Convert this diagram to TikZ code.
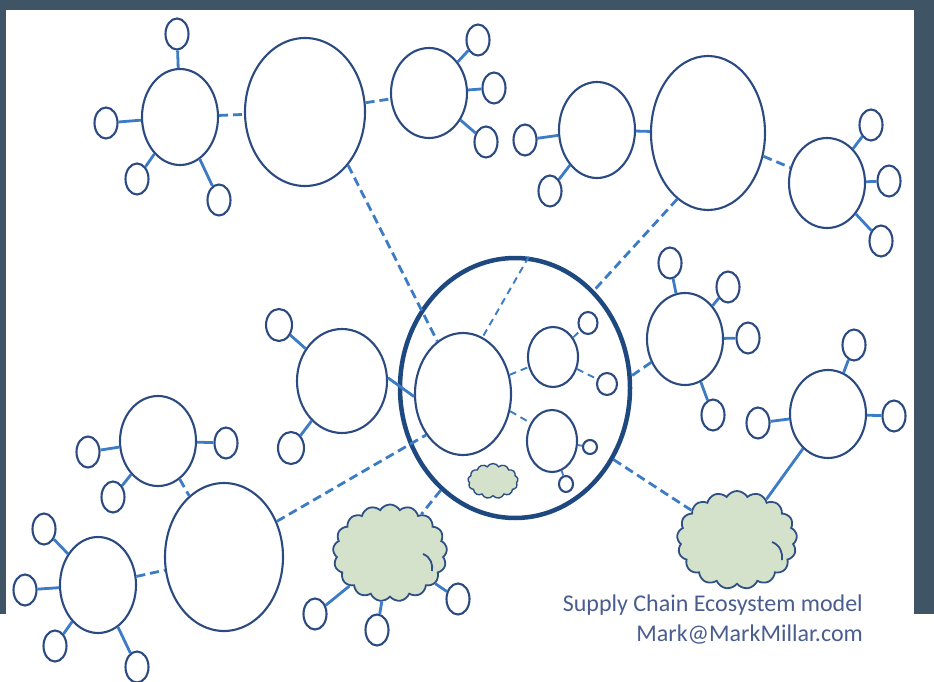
\documentclass[tikz,border=0pt]{standalone}
\usepackage{fontspec}
\setmainfont{Carlito}
\usetikzlibrary{shapes.geometric,shapes.symbols}
\definecolor{framec}{HTML}{3F5464}
\definecolor{outl}{HTML}{2C4A82}
\definecolor{ringc}{HTML}{1E4880}
\definecolor{conn}{HTML}{3C7BC5}
\definecolor{cloudf}{HTML}{D5E2CB}
\definecolor{cloudd}{HTML}{2F5084}
\definecolor{txt}{HTML}{4A5D8F}
\begin{document}
\begin{tikzpicture}[x=1pt,y=-1pt,
  el/.style 2 args={ellipse,draw=outl,line width=2.1pt,inner sep=0pt,minimum width=#1pt,minimum height=#2pt},
  sat/.style={el={23}{31}},
  link/.style={draw=conn,line width=2.8pt},
  dlink/.style={link,dash pattern=on 9pt off 5pt},
  idlink/.style={draw=conn,line width=1.9pt,dash pattern=on 7pt off 5pt},
  cl/.style 2 args={cloud,cloud puffs=17,cloud puff arc=120,cloud ignores aspect,draw=cloudd,fill=cloudf,line width=1.8pt,inner sep=0pt,minimum width=#1pt,minimum height=#2pt},
  curl/.style={draw=cloudd,line width=1.8pt},
  lbl/.style={anchor=base east,text=txt,font=\fontsize{24}{28}\selectfont,inner sep=0pt}]
% background frame
\fill[framec] (0,0) rectangle (934,614);
\fill[white] (6,10) rectangle (914,614);
\fill[white] (0,614) rectangle (934,682);
\useasboundingbox (0,0) rectangle (934,682);
% main nodes
\node[el={76}{96}] (A) at (180,117) {};
\node[el={120}{148}] (B) at (305,112) {};
\node[el={76}{90}] (C) at (429,93) {};
\node[el={76}{96}] (D) at (597,130) {};
\node[el={114}{154}] (E) at (708,133) {};
\node[el={76}{90}] (F) at (827,183) {};
\node[ellipse,draw=ringc,line width=4.5pt,inner sep=0pt,minimum width=230pt,minimum height=260pt] (R) at (515,388) {};
\node[el={96}{122}] (G) at (463,394) {};
\node[el={50}{60}] (H) at (553,357) {};
\node[el={50}{62}] (I) at (552,441) {};
\node[el={90}{104}] (J) at (342,381) {};
\node[el={118}{148}] (K) at (224,557) {};
\node[el={76}{90}] (L) at (158,441) {};
\node[el={76}{96}] (M) at (98,585) {};
\node[el={76}{92}] (O) at (685,339) {};
\node[el={76}{88}] (P) at (828,414) {};
% clouds
\node[cl={114}{97}] (N) at (390,553) {};
\node[cl={120}{98}] (Q) at (737,540) {};
\node[cl={50}{35},cloud puffs=13,line width=1.4pt] (S) at (493,481) {};
\draw[curl] ([shift={(33,1)}]N.center) .. controls ([shift={(41,4)}]N.center) and ([shift={(43,12)}]N.center) .. ([shift={(42,18)}]N.center);
\draw[curl] ([shift={(35,2)}]Q.center) .. controls ([shift={(43,5)}]Q.center) and ([shift={(46,13)}]Q.center) .. ([shift={(45,20)}]Q.center);
% satellites
\node[sat] (a1) at (177,34) {};
\node[sat] (a2) at (106,123) {};
\node[sat] (a3) at (137,179) {};
\node[sat] (a4) at (219,200) {};
\node[sat] (c1) at (478,40) {};
\node[sat] (c2) at (494,88) {};
\node[sat] (c3) at (486,142) {};
\node[sat] (d1) at (525,140) {};
\node[sat] (d2) at (550,191) {};
\node[sat] (f1) at (871,125) {};
\node[sat] (f2) at (889,181) {};
\node[sat] (f3) at (881,241) {};
\node[el={19}{22}] (h1) at (588,323) {};
\node[el={20}{22}] (h2) at (607,384) {};
\node[el={14}{14}] (i1) at (590,447) {};
\node[el={14}{16}] (i2) at (566,484) {};
\node[el={26}{32}] (j1) at (279,325) {};
\node[el={26}{32}] (j2) at (291,448) {};
\node[sat] (l1) at (88,452) {};
\node[sat] (l2) at (226,443) {};
\node[sat] (l3) at (113,497) {};
\node[sat] (m1) at (44,529) {};
\node[sat] (m2) at (25,590) {};
\node[sat] (m3) at (55,646) {};
\node[sat] (m4) at (137,667) {};
\node[sat] (n1) at (315,614) {};
\node[sat] (n2) at (377,630) {};
\node[sat] (n3) at (458,599) {};
\node[sat] (o1) at (670,263) {};
\node[sat] (o2) at (728,287) {};
\node[sat] (o3) at (748,338) {};
\node[sat] (o4) at (713,415) {};
\node[sat] (p1) at (854,345) {};
\node[sat] (p2) at (758,423) {};
\node[sat] (p3) at (894,416) {};
% solid connectors
\foreach \u/\v in {A/a1,A/a2,A/a3,A/a4,C/c1,C/c2,C/c3,D/d1,D/d2,F/f1,F/f2,F/f3,
  J/j1,J/j2,L/l1,L/l2,L/l3,M/m1,M/m2,M/m3,M/m4,N/n1,N/n2,N/n3,O/o1,O/o2,O/o3,O/o4,
  P/p1,P/p2,P/p3,P/Q,D/E}
  \draw[link] (\u) -- (\v);
\draw[link] (J.4) -- (G.183);
\draw[link,line width=1.8pt] (I) -- (i1);
\draw[link,line width=1.8pt] (I) -- (i2);
% dashed connectors
\foreach \u/\v in {A/B,B/C,E/F,L/K,M/K}
  \draw[dlink] (\u) -- (\v);
\draw[dlink] (B.-51) -- (G.116);
\draw[dlink] (E.-115) -- (R.51);
\draw[dlink] (K.34) -- (G.-132);
\draw[dlink] (O) -- (R.6);
\draw[dlink] (R.-36) -- (Q);
\draw[dlink] (R.-126) -- (N);
\draw[idlink] (R.84) -- (G.71);
\draw[idlink] (G) -- (H);
\draw[idlink] (G.-20) -- (I.140);
\draw[idlink] (H) -- (h1);
\draw[idlink] (H) -- (h2);
% caption
\node[lbl] (t1) at (863,611) {Supply Chain Ecosystem model};
\node[lbl] (t2) at (863,641) {Mark@MarkMillar.com};
\end{tikzpicture}
\end{document}
